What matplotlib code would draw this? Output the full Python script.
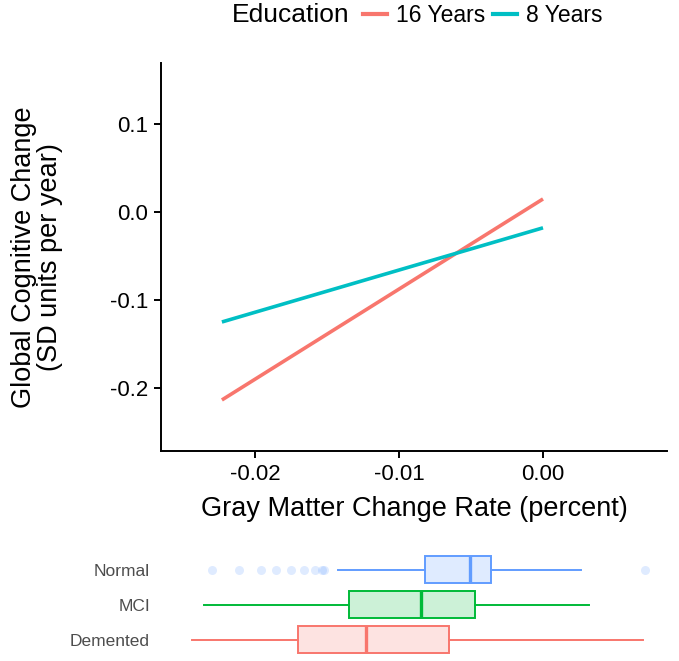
import matplotlib
matplotlib.use("Agg")
import matplotlib.pyplot as plt
from matplotlib.lines import Line2D

plt.rcParams['font.family'] = ['Liberation Sans', 'DejaVu Sans']

# regression lines (gray matter change vs cognitive change)
edu_labels = ['16 Years', '8 Years']
edu_colors = ['#F8766D', '#00BFC4']
line_x = [[-0.0223, 0.0], [-0.0223, 0.0]]
line_y = [[-0.2136, 0.0148], [-0.125, -0.018]]

# boxplot summary of gray matter change per diagnosis
groups = ['Normal', 'MCI', 'Demented']
group_colors = ['#619CFF', '#00BA38', '#F8766D']
whislo = [-0.01424, -0.02354, -0.02438]
q1 = [-0.00819, -0.01347, -0.01701]
med = [-0.00507, -0.00847, -0.01229]
q3 = [-0.00361, -0.00472, -0.00653]
whishi = [0.00264, 0.00319, 0.00694]
fliers = [
    [-0.02299, -0.02111, -0.01958, -0.01854, -0.0175, -0.0166, -0.01583,
     -0.01535, -0.01521, 0.00708],
    [],
    [],
]

fig = plt.figure(figsize=(6.79, 6.61), dpi=100)
ax = fig.add_axes([0.2371, 0.3177, 0.7452, 0.5870])

for xs, ys, c, lab in zip(line_x, line_y, edu_colors, edu_labels):
    ax.plot(xs, ys, color=c, lw=2.6, label=lab, solid_capstyle='butt')

ax.set_xlim(-0.02653, 0.00861)
ax.set_ylim(-0.2716, 0.1693)
ax.set_xticks([-0.02, -0.01, 0.0])
ax.set_xticklabels(['-0.02', '-0.01', '0.00'])
ax.set_yticks([-0.2, -0.1, 0.0, 0.1])
ax.set_yticklabels(['-0.2', '-0.1', '0.0', '0.1'])
for s in ['top', 'right']:
    ax.spines[s].set_visible(False)
for s in ['left', 'bottom']:
    ax.spines[s].set_linewidth(1.4)
ax.tick_params(labelsize=16, width=1.4, length=5, pad=4, colors='black')
ax.set_xlabel('Gray Matter Change Rate (percent)', fontsize=19.5, labelpad=8)
ax.set_ylabel('Global Cognitive Change\n(SD units per year)', fontsize=19.5,
              labelpad=34, linespacing=1.0)

# legend on top
fig.text(0.341, 0.977, 'Education', fontsize=19, ha='left', va='center')
handles = [Line2D([], [], color=c, lw=3) for c in edu_colors]
fig.legend(handles, edu_labels, loc='center left', bbox_to_anchor=(0.535, 0.977),
           ncol=2, frameon=False, fontsize=16.5, handlelength=1.05,
           handletextpad=0.4, columnspacing=0.3, borderaxespad=0,
           borderpad=0)

# boxplot panel
bx = fig.add_axes([0.2371, 0.0, 0.7452, 0.1755])
stats = []
for i, g in enumerate(groups):
    stats.append(dict(label=g, whislo=whislo[i], q1=q1[i], med=med[i],
                      q3=q3[i], whishi=whishi[i], fliers=fliers[i]))
positions = [3, 2, 1]
for st, pos, c in zip(stats, positions, group_colors):
    bx.bxp([st], positions=[pos], vert=False, widths=0.77, patch_artist=True,
           showcaps=False,
           boxprops=dict(facecolor=matplotlib.colors.to_rgba(c, 0.2),
                         edgecolor=c, linewidth=1.4),
           medianprops=dict(color=c, linewidth=2.4),
           whiskerprops=dict(color=c, linewidth=1.4),
           flierprops=dict(marker='o', markersize=6.5,
                           markerfacecolor=matplotlib.colors.to_rgba(c, 0.2),
                           markeredgecolor='none'))
bx.set_xlim(ax.get_xlim())
bx.set_ylim(0.4, 3.71)
bx.set_yticks(positions)
bx.set_yticklabels(groups)
bx.set_xticks([])
bx.tick_params(axis='y', length=0, labelsize=12.5, labelcolor='#4d4d4d', pad=8)
for s in bx.spines.values():
    s.set_visible(False)

fig.savefig('out.png', dpi=100)
